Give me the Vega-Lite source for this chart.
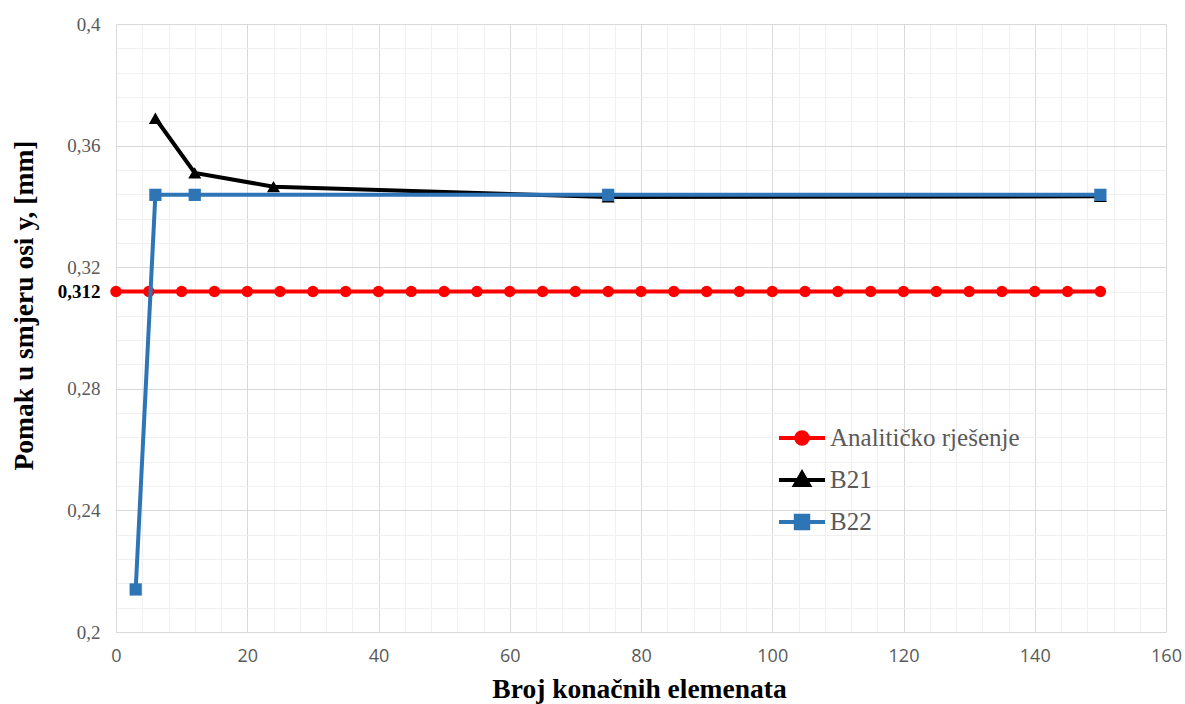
{
  "$schema": "https://vega.github.io/schema/vega-lite/v6.json",
  "width": 1050,
  "height": 608,
  "autosize": "none",
  "padding": {"left": 116, "top": 24, "right": 19, "bottom": 72},
  "background": "white",
  "data": {
    "values": [
      {"serija": "Analitičko rješenje", "n": 0, "pomak": 0.312},
      {"serija": "Analitičko rješenje", "n": 5, "pomak": 0.312},
      {"serija": "Analitičko rješenje", "n": 10, "pomak": 0.312},
      {"serija": "Analitičko rješenje", "n": 15, "pomak": 0.312},
      {"serija": "Analitičko rješenje", "n": 20, "pomak": 0.312},
      {"serija": "Analitičko rješenje", "n": 25, "pomak": 0.312},
      {"serija": "Analitičko rješenje", "n": 30, "pomak": 0.312},
      {"serija": "Analitičko rješenje", "n": 35, "pomak": 0.312},
      {"serija": "Analitičko rješenje", "n": 40, "pomak": 0.312},
      {"serija": "Analitičko rješenje", "n": 45, "pomak": 0.312},
      {"serija": "Analitičko rješenje", "n": 50, "pomak": 0.312},
      {"serija": "Analitičko rješenje", "n": 55, "pomak": 0.312},
      {"serija": "Analitičko rješenje", "n": 60, "pomak": 0.312},
      {"serija": "Analitičko rješenje", "n": 65, "pomak": 0.312},
      {"serija": "Analitičko rješenje", "n": 70, "pomak": 0.312},
      {"serija": "Analitičko rješenje", "n": 75, "pomak": 0.312},
      {"serija": "Analitičko rješenje", "n": 80, "pomak": 0.312},
      {"serija": "Analitičko rješenje", "n": 85, "pomak": 0.312},
      {"serija": "Analitičko rješenje", "n": 90, "pomak": 0.312},
      {"serija": "Analitičko rješenje", "n": 95, "pomak": 0.312},
      {"serija": "Analitičko rješenje", "n": 100, "pomak": 0.312},
      {"serija": "Analitičko rješenje", "n": 105, "pomak": 0.312},
      {"serija": "Analitičko rješenje", "n": 110, "pomak": 0.312},
      {"serija": "Analitičko rješenje", "n": 115, "pomak": 0.312},
      {"serija": "Analitičko rješenje", "n": 120, "pomak": 0.312},
      {"serija": "Analitičko rješenje", "n": 125, "pomak": 0.312},
      {"serija": "Analitičko rješenje", "n": 130, "pomak": 0.312},
      {"serija": "Analitičko rješenje", "n": 135, "pomak": 0.312},
      {"serija": "Analitičko rješenje", "n": 140, "pomak": 0.312},
      {"serija": "Analitičko rješenje", "n": 145, "pomak": 0.312},
      {"serija": "Analitičko rješenje", "n": 150, "pomak": 0.312},
      {"serija": "B21", "n": 6, "pomak": 0.369},
      {"serija": "B21", "n": 12, "pomak": 0.351},
      {"serija": "B21", "n": 24, "pomak": 0.3465},
      {"serija": "B21", "n": 75, "pomak": 0.3431},
      {"serija": "B21", "n": 150, "pomak": 0.3433},
      {"serija": "B22", "n": 3, "pomak": 0.214},
      {"serija": "B22", "n": 6, "pomak": 0.3438},
      {"serija": "B22", "n": 12, "pomak": 0.3438},
      {"serija": "B22", "n": 75, "pomak": 0.3438},
      {"serija": "B22", "n": 150, "pomak": 0.3438}
    ]
  },
  "encoding": {
    "x": {
      "field": "n",
      "type": "quantitative",
      "scale": {"domain": [0, 160], "nice": false, "zero": false},
      "axis": {
        "title": "Broj konačnih elemenata",
        "values": [0,4,8,12,16,20,24,28,32,36,40,44,48,52,56,60,64,68,72,76,80,84,88,92,96,100,104,108,112,116,120,124,128,132,136,140,144,148,152,156,160],
        "labelExpr": "datum.value % 20 == 0 ? datum.label : ''",
        "labelFont": "Open Sans",
        "labelFontSize": 18,
        "labelColor": "#595959",
        "labelPadding": 15,
        "labelOverlap": false,
        "labelBound": false,
        "labelFlush": false,
        "ticks": false,
        "domainColor": "#d9d9d9",
        "domainWidth": 1,
        "grid": true,
        "gridColor": {"condition": {"test": "datum.value % 20 == 0", "value": "#d9d9d9"}, "value": "#f0f0f0"},
        "gridWidth": 1,
        "titleFont": "Liberation Serif",
        "titleFontSize": 27.5,
        "titleFontWeight": "bold",
        "titleColor": "#000000",
        "titleBaseline": "alphabetic",
        "titleX": 523,
        "titleY": 65
      }
    },
    "y": {
      "field": "pomak",
      "type": "quantitative",
      "scale": {"domain": [0.2, 0.4], "nice": false, "zero": false},
      "axis": {
        "title": "Pomak u smjeru osi y, [mm]",
        "values": [0.2,0.208,0.216,0.224,0.232,0.24,0.248,0.256,0.264,0.272,0.28,0.288,0.296,0.304,0.312,0.32,0.328,0.336,0.344,0.352,0.36,0.368,0.376,0.384,0.392,0.4],
        "labelExpr": "indexof([0.2,0.24,0.28,0.32,0.36,0.4,0.312], datum.value) >= 0 ? replace('' + datum.value, '.', ',') : ''",
        "labelFont": "Liberation Serif",
        "labelFontSize": 19,
        "labelColor": {"condition": {"test": "datum.value == 0.312", "value": "#000000"}, "value": "#595959"},
        "labelFontWeight": {"condition": {"test": "datum.value == 0.312", "value": "bold"}, "value": "normal"},
        "labelPadding": 16,
        "labelOverlap": false,
        "labelBound": false,
        "labelFlush": false,
        "ticks": false,
        "domainColor": "#d9d9d9",
        "domainWidth": 1,
        "grid": true,
        "gridColor": {"condition": {"test": "indexof([0.2,0.24,0.28,0.32,0.36,0.4], datum.value) >= 0", "value": "#d9d9d9"}, "value": "#f0f0f0"},
        "gridWidth": 1,
        "titleFont": "Liberation Serif",
        "titleFontSize": 27.5,
        "titleFontWeight": "bold",
        "titleColor": "#000000",
        "titleAngle": -90,
        "titleBaseline": "alphabetic",
        "titleAlign": "center",
        "titleX": -84,
        "titleY": 281
      }
    },
    "color": {
      "field": "serija",
      "type": "nominal",
      "scale": {"domain": ["Analitičko rješenje", "B21", "B22"], "range": ["#ff0000", "#000000", "#2e75b6"]},
      "legend": {
        "title": null,
        "orient": "none",
        "legendX": 661,
        "legendY": 389,
        "padding": 0,
        "labelFont": "Liberation Serif",
        "labelFontSize": 25,
        "labelColor": "#595959",
        "labelOffset": 3,
        "labelLimit": 0,
        "rowPadding": 3,
        "symbolSize": 2116,
        "symbolStrokeWidth": 4,
        "encode": {
          "symbols": {
            "update": {
              "shape": {"signal": "datum.value === 'B21' ? 'M-1,0L1,0M0,-0.3L0.3,0.22L-0.3,0.22Z' : datum.value === 'B22' ? 'M-1,0L1,0M-0.27,-0.27L0.27,-0.27L0.27,0.27L-0.27,0.27Z' : 'M-1,0L1,0M0.25,0A0.25,0.25,0,1,1,-0.25,0A0.25,0.25,0,1,1,0.25,0Z'"},
              "fill": {"signal": "datum.value === 'B21' ? '#000000' : datum.value === 'B22' ? '#2e75b6' : '#ff0000'"},
              "stroke": {"signal": "datum.value === 'B21' ? '#000000' : datum.value === 'B22' ? '#2e75b6' : '#ff0000'"},
              "fillOpacity": {"value": 1},
              "strokeOpacity": {"value": 1},
              "opacity": {"value": 1},
              "strokeWidth": {"value": 4}
            }
          }
        }
      }
    }
  },
  "layer": [
    {
      "transform": [{"filter": "datum.serija === 'Analitičko rješenje'"}],
      "mark": {"type": "line", "strokeWidth": 4}
    },
    {
      "transform": [{"filter": "datum.serija === 'Analitičko rješenje'"}],
      "mark": {"type": "point", "shape": "circle", "filled": true, "size": 130, "opacity": 1}
    },
    {
      "transform": [{"filter": "datum.serija === 'B21'"}],
      "mark": {"type": "line", "strokeWidth": 4}
    },
    {
      "transform": [{"filter": "datum.serija === 'B21'"}],
      "mark": {"type": "point", "shape": "triangle-up", "filled": true, "size": 170, "opacity": 1}
    },
    {
      "transform": [{"filter": "datum.serija === 'B22'"}],
      "mark": {"type": "line", "strokeWidth": 4}
    },
    {
      "transform": [{"filter": "datum.serija === 'B22'"}],
      "mark": {"type": "point", "shape": "square", "filled": true, "size": 150, "opacity": 1}
    }
  ],
  "config": {"view": {"stroke": null}}
}
